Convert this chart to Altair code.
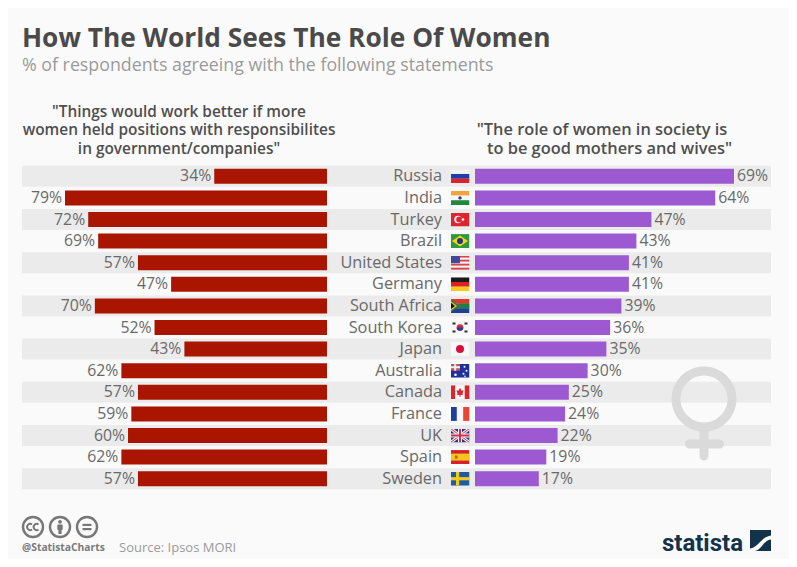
import urllib.parse
import altair as alt
import pandas as pd

TITLE = "How The World Sees The Role Of Women"
SUBTITLE = "% of respondents agreeing with the following statements"
countries = ["Russia", "India", "Turkey", "Brazil", "United States", "Germany", "South Africa",
             "South Korea", "Japan", "Australia", "Canada", "France", "UK", "Spain", "Sweden"]
better_values = [34, 79, 72, 69, 57, 47, 70, 52, 43, 62, 57, 59, 60, 62, 57]
mothers_values = [69, 64, 47, 43, 41, 41, 39, 36, 35, 30, 25, 24, 22, 19, 17]
left_header = ['"Things would work better if more', 'women held positions with responsibilites', 'in government/companies"']
right_header = ['"The role of women in society is', 'to be good mothers and wives"']


def svg(w, h, body):
    s = f'<svg xmlns="http://www.w3.org/2000/svg" width="{w}" height="{h}" viewBox="0 0 {w} {h}">{body}</svg>'
    return "data:image/svg+xml," + urllib.parse.quote(s)


def r(x, y, w, h, c):
    return f'<rect x="{x}" y="{y}" width="{w}" height="{h}" fill="{c}"/>'


def hstripes(*cols):
    h = 14 / len(cols)
    return "".join(r(0, i * h, 19, h + 0.1, c) for i, c in enumerate(cols))


def vstripes(*cols):
    w = 19 / len(cols)
    return "".join(r(i * w, 0, w + 0.1, 14, c) for i, c in enumerate(cols))


flag_bodies = {
    "Russia": hstripes("#f4f4f4", "#1c3fa8", "#e2202c"),
    "India": hstripes("#f5a13c", "#f6f6f6", "#1f8a3a") + '<circle cx="9.5" cy="7" r="1.7" fill="#33398f"/>',
    "Turkey": r(0, 0, 19, 14, "#dd2530") + '<circle cx="7.5" cy="7" r="3.7" fill="#fff"/><circle cx="8.6" cy="7" r="2.9" fill="#dd2530"/><circle cx="12.5" cy="7" r="1.3" fill="#fff"/>',
    "Brazil": r(0, 0, 19, 14, "#2c9a3c") + '<path d="M9.5 1.5L17.5 7L9.5 12.5L1.5 7Z" fill="#f6d11f"/><circle cx="9.5" cy="7" r="3" fill="#24357f"/>',
    "United States": hstripes("#d8434d", "#f4f4f4", "#d8434d", "#f4f4f4", "#d8434d", "#f4f4f4", "#d8434d") + r(0, 0, 9.5, 7.5, "#42489c"),
    "Germany": hstripes("#1a1a1a", "#dd1f26", "#f7c919"),
    "South Africa": hstripes("#dd3a2c", "#dd3a2c", "#1f3f93") + '<path d="M0 0L9 7L0 14Z" fill="#1c7f4b"/><path d="M0 2L6.5 7L0 12Z" fill="#f5c522"/><path d="M0 3.5L4.5 7L0 10.5Z" fill="#151515"/><path d="M7 4.5H19V9.5H7L9.5 7Z" fill="#1c7f4b"/>',
    "South Korea": r(0, 0, 19, 14, "#f6f6f6") + '<circle cx="9.5" cy="7" r="3.3" fill="#d5283c"/><path d="M6.2 7A3.3 3.3 0 0 0 12.8 7Z" fill="#24408f"/>' + r(2, 2, 3, 2, "#333") + r(14, 2, 3, 2, "#333") + r(2, 10, 3, 2, "#333") + r(14, 10, 3, 2, "#333"),
    "Japan": r(0, 0, 19, 14, "#f8f8f8") + '<circle cx="9.5" cy="7" r="4" fill="#d4103a"/>',
    "Australia": r(0, 0, 19, 14, "#20309a") + r(0, 0, 9.5, 7, "#c5505f") + r(0, 2.5, 9.5, 2, "#eee") + r(3.7, 0, 2, 7, "#eee") + '<circle cx="5" cy="11" r="1.3" fill="#fff"/><circle cx="14" cy="3" r="1" fill="#fff"/><circle cx="16" cy="7" r="1" fill="#fff"/><circle cx="13" cy="10" r="1" fill="#fff"/><circle cx="14.5" cy="12.5" r="0.8" fill="#fff"/>',
    "Canada": vstripes("#e0222e", "#f7f7f7", "#f7f7f7", "#e0222e") + '<path d="M9.5 2.5L11 5.5L13 5L12 8.5L12.8 9.5L10 9.7V11.5H9V9.7L6.2 9.5L7 8.5L6 5L8 5.5Z" fill="#e0222e"/>',
    "France": vstripes("#1d3f9e", "#f6f6f6", "#ea4535"),
    "UK": r(0, 0, 19, 14, "#26368f") + '<path d="M0 0L19 14M19 0L0 14" stroke="#f4f4f4" stroke-width="3"/><path d="M0 0L19 14M19 0L0 14" stroke="#d0314a" stroke-width="1"/>' + r(7.5, 0, 4, 14, "#f4f4f4") + r(0, 5, 19, 4, "#f4f4f4") + r(8.5, 0, 2, 14, "#d0314a") + r(0, 6, 19, 2, "#d0314a"),
    "Spain": r(0, 0, 19, 14, "#d5202b") + r(0, 3.5, 19, 7, "#f6c21c") + r(4.5, 5.5, 2.5, 3, "#b3632a"),
    "Sweden": r(0, 0, 19, 14, "#1c5ca4") + r(5.5, 0, 3.2, 14, "#f5c91c") + r(0, 5.4, 19, 3.2, "#f5c91c"),
}
flags = [svg(19, 14, flag_bodies[c]) for c in countries]

venus_url = svg(80, 100, '<g stroke="#dadada" stroke-width="9" fill="none" stroke-linecap="round">'
                         '<circle cx="40" cy="33" r="28"/><path d="M40 62V90M25.5 78H55.5"/></g>')
cc_url = svg(84, 24, '<g fill="none" stroke="#777" stroke-width="2.4"><circle cx="15" cy="12" r="10"/><circle cx="42" cy="12" r="10"/><circle cx="69" cy="12" r="10"/>'
                     '<path d="M14 9.6A3 3 0 1 0 14 14.4M20.5 9.6A3 3 0 1 0 20.5 14.4" stroke-width="1.9"/></g>'
                     '<circle cx="42" cy="6.8" r="1.9" fill="#777"/><rect x="39.3" y="9.5" width="5.4" height="5.5" rx="1" fill="#777"/><rect x="40.4" y="14" width="3.2" height="5" fill="#777"/>'
                     '<rect x="64.5" y="8.8" width="9" height="2.2" fill="#777"/><rect x="64.5" y="13" width="9" height="2.2" fill="#777"/>')
logo_url = svg(21, 21, '<rect width="21" height="21" fill="#12334a"/>'
                       '<path d="M0 18.5C9 17 10 7.5 21 5.5V9.5C13 10.5 12 20 5 21H0Z" fill="#fafafa"/>')

df = pd.DataFrame({"country": countries, "better": better_values, "mothers": mothers_values, "flag": flags})
df["better_label"] = df["better"].astype(str) + "%"
df["mothers_label"] = df["mothers"].astype(str) + "%"
base = alt.Chart(df)

y_enc = alt.Y("country:N", sort=countries, axis=None,
              scale=alt.Scale(type="band", domain=countries, paddingInner=0, paddingOuter=0))
left_x = alt.Scale(domain=[0, 79], range=[305, 43])
right_x = alt.Scale(domain=[0, 69], range=[453, 712])
label_grey = "#696969"

stripes = alt.Chart(df.iloc[::2]).mark_bar(size=21, color="#ebebeb").encode(
    x=alt.value(0), x2=alt.value(749), y=y_enc)
left_bars = base.mark_bar(size=15, color="#aa1500").encode(
    x=alt.X("better:Q", axis=None, scale=left_x), y=y_enc)
left_labels = base.mark_text(align="right", dx=-3, font="Open Sans", fontSize=15.8, color=label_grey).encode(
    x=alt.X("better:Q", axis=None, scale=left_x), y=y_enc, text="better_label:N")
right_bars = base.mark_bar(size=15, color="#9c59d1").encode(
    x=alt.X("mothers:Q", axis=None, scale=right_x), y=y_enc)
right_labels = base.mark_text(align="left", dx=3, font="Open Sans", fontSize=15.8, color=label_grey).encode(
    x=alt.X("mothers:Q", axis=None, scale=right_x), y=y_enc, text="mothers_label:N")
names = base.mark_text(align="right", font="Open Sans", fontSize=16.3, color=label_grey).encode(
    x=alt.value(420), y=y_enc, text="country:N")
flag_marks = base.mark_image(width=19, height=14, align="center", baseline="middle").encode(
    x=alt.value(438), y=y_enc, url="flag:N")


def note(text, x, y, **kw):
    return alt.Chart(pd.DataFrame({"t": [text]})).mark_text(**kw).encode(
        x=alt.value(x), y=alt.value(y), text="t:N")


def picture(url, x, y, w, h):
    return alt.Chart(pd.DataFrame({"u": [url]})).mark_image(width=w, height=h, align="center", baseline="middle").encode(
        x=alt.value(x), y=alt.value(y), url="u:N")


head = dict(font="Open Sans", fontWeight=600, color="#4f4f4f", align="center")
headers = [note(t, 157, -54 + i * 18.5, fontSize=15.4, **head) for i, t in enumerate(left_header)]
headers += [note(right_header[0], 580, -35.5, fontSize=16.4, **head),
            note(right_header[1], 587.5, -17, fontSize=16.4, **head)]

chart = alt.layer(
    stripes,
    picture(venus_url, 682, 250.5, 80, 100),
    left_bars, left_labels, right_bars, right_labels, names, flag_marks,
    *headers,
    picture(cc_url, 38, 361.5, 84, 24),
    note("@StatistaCharts", 0, 382, font="Open Sans", fontSize=10.3, fontWeight="bold", color="#7a7a7a", align="left"),
    note("Source: Ipsos MORI", 97, 382, font="Open Sans", fontSize=13, color="#9a9a9a", align="left"),
    note("statista", 721, 385, font="Roboto", fontSize=24, fontWeight="bold", color="#12334a", align="right", baseline="alphabetic"),
    picture(logo_url, 738.5, 375, 21, 21),
).resolve_scale(x="independent").properties(
    width=749, height=324,
    autosize=alt.AutoSizeParams(type="none"),
    padding={"left": 14, "top": 157.5, "right": 18, "bottom": 69.5},
    background="#fafafa",
    title=alt.TitleParams(
        TITLE, subtitle=SUBTITLE, anchor="start", frame="group", offset=30,
        font="Open Sans", fontSize=26.3, fontWeight="bold", color="#4a4a4a",
        subtitleFont="Open Sans", subtitleFontSize=17.8, subtitleColor="#9a9a9a", subtitlePadding=4,
    ),
).configure_view(stroke=None)

chart.save("out.html", embed_options={"renderer": "svg", "actions": False})
